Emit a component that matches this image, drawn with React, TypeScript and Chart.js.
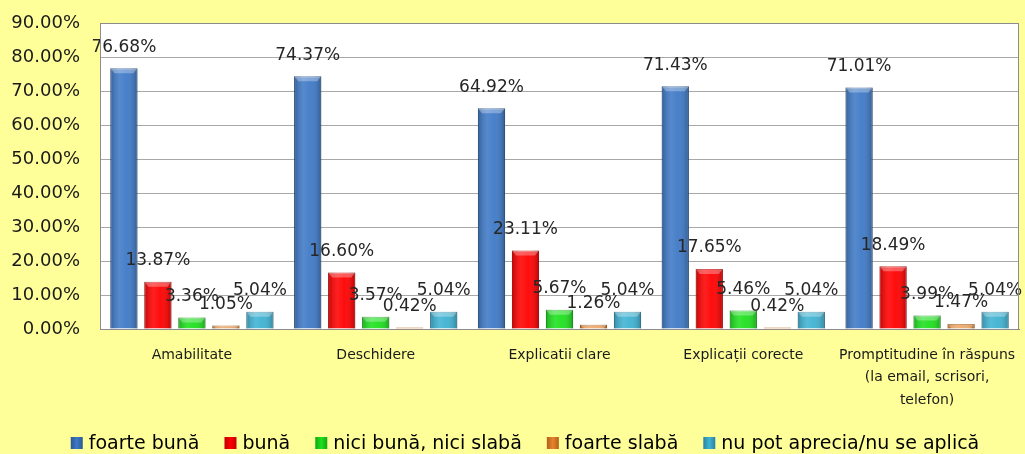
import React, { useEffect, useRef } from "react";
import { Chart, registerables } from "chart.js";

Chart.register(...registerables);

const categories: (string | string[])[] = [
  "Amabilitate",
  "Deschidere",
  "Explicatii clare",
  "Explicații corecte",
  ["Promptitudine în răspuns", "(la email, scrisori,", "telefon)"],
];

const seriesNames = [
  "foarte bună",
  "bună",
  "nici bună, nici slabă",
  "foarte slabă",
  "nu pot aprecia/nu se aplică",
];

const foarteBuna = [76.68, 74.37, 64.92, 71.43, 71.01];
const buna = [13.87, 16.6, 23.11, 17.65, 18.49];
const niciBunaNiciSlaba = [3.36, 3.57, 5.67, 5.46, 3.99];
const foarteSlaba = [1.05, 0.42, 1.26, 0.42, 1.47];
const nuPotAprecia = [5.04, 5.04, 5.04, 5.04, 5.04];

const yTicks = [0, 10, 20, 30, 40, 50, 60, 70, 80, 90];

const seriesColors = ["#3E79C6", "#FF0000", "#1EE01E", "#E8842C", "#3FB2D2"];
const seriesEdge = ["#2B5894", "#C00000", "#12A812", "#B0601A", "#2A84A0"];

const FONT = "'DejaVu Sans', Verdana, sans-serif";

const plotBg = {
  id: "plotBg",
  beforeDraw(chart: any) {
    const { ctx, chartArea: a } = chart;
    ctx.save();
    ctx.fillStyle = "#FFFFFF";
    ctx.fillRect(a.left, a.top, a.right - a.left, a.bottom - a.top);
    ctx.restore();
  },
  afterDraw(chart: any) {
    const { ctx, chartArea: a } = chart;
    ctx.save();
    ctx.strokeStyle = "#8C8C8C";
    ctx.lineWidth = 1;
    ctx.strokeRect(a.left + 0.5, a.top + 0.5, a.right - a.left - 1, a.bottom - a.top);
    ctx.restore();
  },
};

const barShade = {
  id: "barShade",
  afterDatasetsDraw(chart: any) {
    const ctx = chart.ctx;
    ctx.save();
    chart.data.datasets.forEach((ds: any, di: number) => {
      const meta = chart.getDatasetMeta(di);
      meta.data.forEach((el: any) => {
        const w = el.width;
        const left = el.x - w / 2;
        const top = Math.min(el.y, el.base);
        const h = Math.abs(el.base - el.y);
        if (h < 1) return;
        const g = ctx.createLinearGradient(left, 0, left + w, 0);
        g.addColorStop(0, "rgba(0,0,0,0.22)");
        g.addColorStop(0.35, "rgba(255,255,255,0.12)");
        g.addColorStop(0.6, "rgba(255,255,255,0.05)");
        g.addColorStop(1, "rgba(0,0,0,0.25)");
        ctx.fillStyle = g;
        ctx.fillRect(left, top, w, h);
        const bev = Math.min(5, h);
        ctx.fillStyle = "rgba(255,255,255,0.3)";
        ctx.beginPath();
        ctx.moveTo(left, top);
        ctx.lineTo(left + w, top);
        ctx.lineTo(left + w - 4, top + bev);
        ctx.lineTo(left + 4, top + bev);
        ctx.closePath();
        ctx.fill();
      });
    });
    ctx.restore();
  },
};

const dataLabels = {
  id: "dataLabels",
  afterDatasetsDraw(chart: any) {
    const ctx = chart.ctx;
    ctx.save();
    ctx.font = `17px ${FONT}`;
    ctx.fillStyle = "#262626";
    ctx.textAlign = "center";
    ctx.textBaseline = "middle";
    chart.data.datasets.forEach((ds: any, di: number) => {
      const meta = chart.getDatasetMeta(di);
      meta.data.forEach((el: any, i: number) => {
        const v = ds.data[i] as number;
        ctx.fillText(v.toFixed(2) + "%", el.x, el.y - 21);
      });
    });
    ctx.restore();
  },
};

const customLegend = {
  id: "customLegend",
  afterDraw(chart: any) {
    const ctx = chart.ctx;
    ctx.save();
    ctx.font = `19px ${FONT}`;
    ctx.textBaseline = "middle";
    ctx.textAlign = "left";
    const box = 12;
    const gap = 6;
    const spacing = 25;
    const widths = seriesNames.map((n) => ctx.measureText(n).width);
    const total =
      widths.reduce((s, w) => s + box + gap + w, 0) + spacing * (seriesNames.length - 1);
    let x = 525 - total / 2;
    const y = 443;
    seriesNames.forEach((n, i) => {
      const g = ctx.createLinearGradient(x, 0, x + box, 0);
      g.addColorStop(0, seriesEdge[i]);
      g.addColorStop(0.5, seriesColors[i]);
      g.addColorStop(1, seriesEdge[i]);
      ctx.fillStyle = g;
      ctx.fillRect(x, y - box / 2, box, box);
      ctx.fillStyle = "#000000";
      ctx.fillText(n, x + box + gap, y + 1);
      x += box + gap + widths[i] + spacing;
    });
    ctx.restore();
  },
};

export default function App() {
  const ref = useRef<HTMLCanvasElement>(null);

  useEffect(() => {
    if (!ref.current) return;
    const allSeries = [foarteBuna, buna, niciBunaNiciSlaba, foarteSlaba, nuPotAprecia];
    const chart = new Chart(ref.current, {
      type: "bar",
      data: {
        labels: categories,
        datasets: allSeries.map((d, i) => ({
          label: seriesNames[i],
          data: d,
          backgroundColor: seriesColors[i],
          borderColor: seriesEdge[i],
          borderWidth: 1,
          barPercentage: 0.8,
          categoryPercentage: 0.925,
        })),
      },
      options: {
        animation: false,
        responsive: true,
        maintainAspectRatio: false,
        layout: { padding: { top: 23, right: 6, bottom: 0, left: 0 } },
        plugins: {
          legend: { display: false },
          tooltip: { enabled: false },
        },
        scales: {
          x: {
            grid: { display: false, drawTicks: false },
            border: { display: true, color: "#8C8C8C" },
            ticks: {
              font: { family: FONT, size: 14, lineHeight: 1.6 },
              color: "#1A1A1A",
              padding: 15,
              maxRotation: 0,
              minRotation: 0,
              autoSkip: false,
            },
            afterFit(scale: any) {
              scale.height = 125;
              scale.paddingLeft = 0;
              scale.paddingRight = 0;
            },
          },
          y: {
            min: 0,
            max: 90,
            afterBuildTicks(scale: any) {
              scale.ticks = yTicks.map((v) => ({ value: v }));
            },
            grid: { color: "#A8A8A8", drawTicks: false, lineWidth: 1 },
            border: { display: true, color: "#8C8C8C" },
            ticks: {
              font: { family: FONT, size: 18 },
              color: "#1A1A1A",
              padding: 20,
              callback: (v: any) => Number(v).toFixed(2) + "%",
            },
            afterFit(scale: any) {
              scale.width = 100;
              scale.paddingTop = 0;
              scale.paddingBottom = 0;
            },
          },
        },
      },
      plugins: [plotBg, barShade, dataLabels, customLegend],
    });
    return () => chart.destroy();
  }, []);

  return (
    <div
      style={{
        position: "fixed",
        left: 0,
        top: 0,
        width: 1025,
        height: 454,
        background: "#FFFF99",
      }}
    >
      <canvas ref={ref} />
    </div>
  );
}
